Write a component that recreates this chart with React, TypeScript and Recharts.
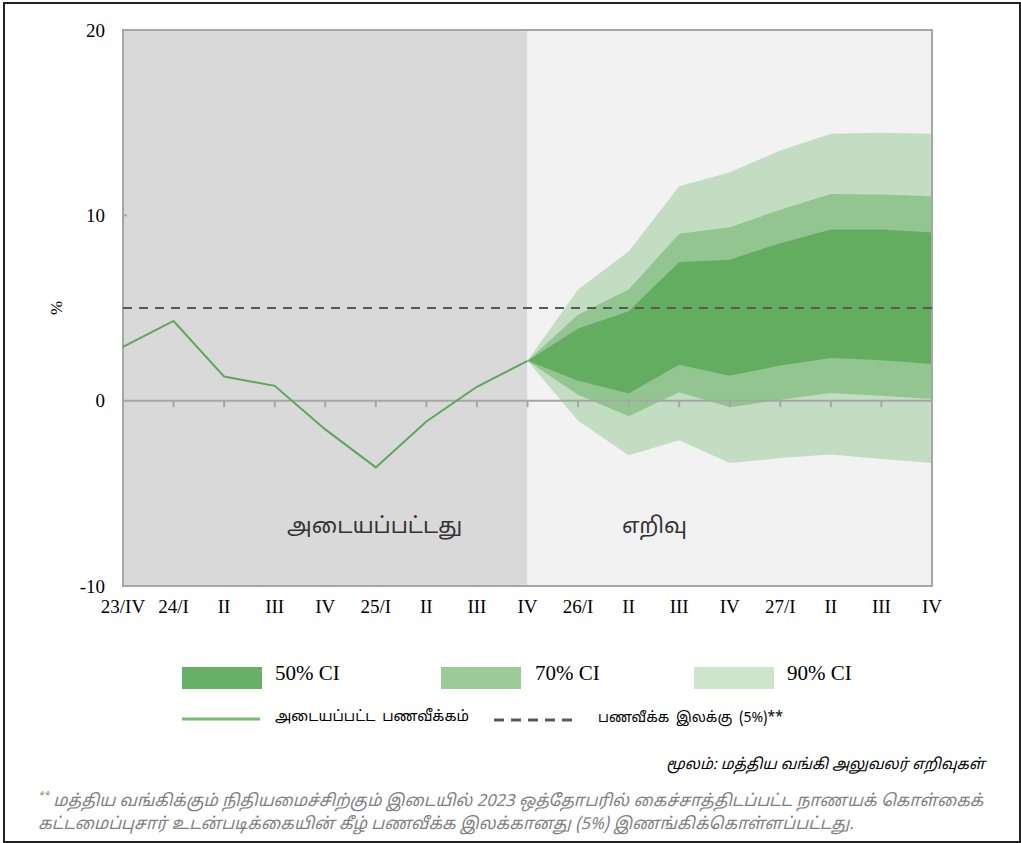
import React from 'react';
import { ComposedChart, Area, Line, XAxis, YAxis, ReferenceArea, ReferenceLine } from 'recharts';

// quarter labels on the x axis
const quarters = ['23/IV', '24/I', 'II', 'III', 'IV', '25/I', 'II', 'III', 'IV', '26/I', 'II', 'III', 'IV', '27/I', 'II', 'III', 'IV'];

// actual inflation (%), 23/IV .. 25/IV
const actual = [2.9, 4.3, 1.3, 0.8, -1.55, -3.6, -1.12, 0.75, 2.15];

// forecast bands, 25/IV .. 27/IV
const ci50Low = [2.15, 1.08, 0.38, 1.94, 1.35, 1.9, 2.3, 2.18, 1.98];
const ci50High = [2.15, 3.89, 4.82, 7.48, 7.61, 8.5, 9.23, 9.23, 9.08];
const ci70Low = [2.15, 0.32, -0.84, 0.45, -0.36, 0.05, 0.41, 0.27, 0.09];
const ci70High = [2.15, 4.64, 6.0, 9.0, 9.36, 10.3, 11.15, 11.12, 11.03];
const ci90Low = [2.15, -1.08, -2.95, -2.14, -3.37, -3.1, -2.91, -3.15, -3.37];
const ci90High = [2.15, 6.0, 8.05, 11.57, 12.32, 13.5, 14.4, 14.45, 14.4];

const target = 5;
const yTicks = [-10, 0, 10, 20];
const forecastStart = actual.length - 1;

const data = quarters.map((q, i) => {
  const f = i - forecastStart;
  return {
    idx: i,
    label: q,
    actual: i < actual.length ? actual[i] : null,
    ci90: f >= 0 ? [ci90Low[f], ci90High[f]] : null,
    ci70: f >= 0 ? [ci70Low[f], ci70High[f]] : null,
    ci50: f >= 0 ? [ci50Low[f], ci50High[f]] : null,
  };
});

const bandLegend = [
  { label: '50% CI', color: '#66b165', left: 182, textLeft: 275 },
  { label: '70% CI', color: '#9bcc98', left: 441, textLeft: 535 },
  { label: '90% CI', color: '#cde5cb', left: 694, textLeft: 787 },
];

const tamil = '"Noto Sans Tamil", "Lohit Tamil", "Noto Sans", sans-serif';
const serif = '"Liberation Serif", "Times New Roman", serif';

export default function App() {
  return (
    <div style={{ position: 'absolute', left: 0, top: 0, width: 1021, height: 843, background: '#fff', fontFamily: serif }}>
      {/* outer frame */}
      <div style={{ position: 'absolute', left: 3, top: 2, width: 1014, height: 837, border: '2px solid #222' }} />

      <div style={{ position: 'absolute', left: 0, top: 0 }}>
        <ComposedChart width={1021} height={640} data={data} margin={{ top: 30, right: 89, left: 63, bottom: 14 }}>
          <ReferenceArea x1={0} x2={forecastStart} y1={-10} y2={20} fill="#d9d9d9" fillOpacity={1} stroke="none" />
          <ReferenceArea x1={forecastStart} x2={quarters.length - 1} y1={-10} y2={20} fill="#f2f2f2" fillOpacity={1} stroke="none" />
          <XAxis
            dataKey="idx"
            type="number"
            domain={[0, quarters.length - 1]}
            ticks={quarters.map((_, i) => i)}
            interval={0}
            tickFormatter={(v: number) => quarters[v]}
            axisLine={false}
            tickLine={false}
            tickSize={0}
            tickMargin={14}
            height={40}
            tick={{ fill: '#000', fontSize: 19, fontFamily: serif }}
          />
          <YAxis
            type="number"
            domain={[-10, 20]}
            ticks={yTicks}
            axisLine={false}
            tickLine={false}
            tickSize={0}
            tickMargin={18}
            width={60}
            tick={{ fill: '#000', fontSize: 19, fontFamily: serif }}
          />
          <Area dataKey="ci90" type="linear" fill="#c3ddc2" fillOpacity={1} stroke="none" isAnimationActive={false} />
          <Area dataKey="ci70" type="linear" fill="#93c590" fillOpacity={1} stroke="none" isAnimationActive={false} />
          <Area dataKey="ci50" type="linear" fill="#62ad5f" fillOpacity={1} stroke="none" isAnimationActive={false} />
          <ReferenceLine y={0} stroke="#a6a6a6" strokeWidth={2} />
          {quarters.map((_, i) => (
            <ReferenceLine key={i} segment={[{ x: i, y: 0 }, { x: i, y: -0.35 }]} stroke="#a6a6a6" strokeWidth={2} />
          ))}
          <ReferenceLine segment={[{ x: 0, y: 10 }, { x: 0.08, y: 10 }]} stroke="#a6a6a6" strokeWidth={2} />
          <ReferenceLine y={target} stroke="#595959" strokeWidth={2} strokeDasharray="9 7" />
          <Line dataKey="actual" type="linear" stroke="#5aa858" strokeWidth={2} dot={false} connectNulls={false} isAnimationActive={false} />
          <ReferenceArea x1={0} x2={quarters.length - 1} y1={-10} y2={20} fill="none" stroke="#a6a6a6" strokeWidth={2} />
        </ComposedChart>
      </div>

      {/* y axis title */}
      <div style={{ position: 'absolute', left: 50, top: 298, fontSize: 17, transform: 'rotate(-90deg)' }}>%</div>

      {/* period labels */}
      <div style={{ position: 'absolute', left: 287, top: 514, fontSize: 22, fontFamily: tamil, color: '#333' }}>அடையப்பட்டது</div>
      <div style={{ position: 'absolute', left: 622, top: 514, fontSize: 22, fontFamily: tamil, color: '#333' }}>எறிவு</div>

      {/* legend */}
      {bandLegend.map((b) => (
        <React.Fragment key={b.label}>
          <div style={{ position: 'absolute', left: b.left, top: 667, width: 80, height: 22, background: b.color }} />
          <div style={{ position: 'absolute', left: b.textLeft, top: 661, fontSize: 21 }}>{b.label}</div>
        </React.Fragment>
      ))}
      <svg style={{ position: 'absolute', left: 0, top: 710 }} width={1021} height={20}>
        <line x1={182} x2={260} y1={9} y2={9} stroke="#77bb75" strokeWidth={3} />
        <line x1={494} x2={572} y1={10} y2={10} stroke="#595959" strokeWidth={3} strokeDasharray="10 7" />
      </svg>
      <div style={{ position: 'absolute', left: 275, top: 708, fontSize: 14.6, fontFamily: tamil, wordSpacing: 3 }}>அடையப்பட்ட பணவீக்கம்</div>
      <div style={{ position: 'absolute', left: 598, top: 710, fontSize: 14, fontFamily: tamil, wordSpacing: 3 }}>பணவீக்க இலக்கு (5%)**</div>

      {/* source and note */}
      <div style={{ position: 'absolute', right: 36, top: 756, fontSize: 15, fontStyle: 'italic', fontFamily: tamil }}>
        மூலம்: மத்திய வங்கி அலுவலர் எறிவுகள்
      </div>
      <div style={{ position: 'absolute', left: 38, top: 785, width: 975, fontSize: 16.6, fontStyle: 'italic', fontFamily: tamil, color: '#7f7f7f', lineHeight: '23px', whiteSpace: 'nowrap' }}>
        <sup style={{ fontSize: 10 }}>**</sup> மத்திய வங்கிக்கும் நிதியமைச்சிற்கும் இடையில் 2023 ஒத்தோபரில் கைச்சாத்திடப்பட்ட நாணயக் கொள்கைக்
        <br />
        கட்டமைப்புசார் உடன்படிக்கையின் கீழ் பணவீக்க இலக்கானது (5%) இணங்கிக்கொள்ளப்பட்டது.
      </div>
    </div>
  );
}
